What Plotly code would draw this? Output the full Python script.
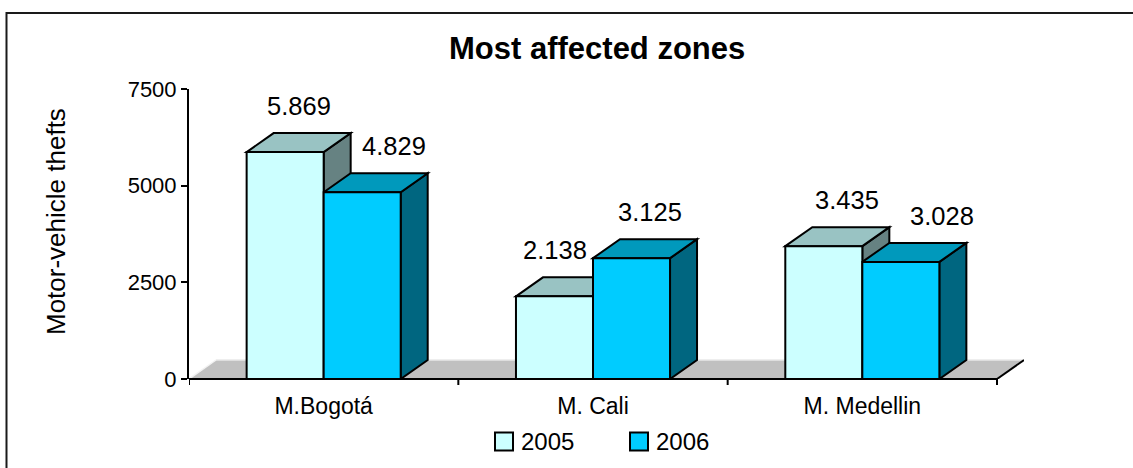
import plotly.graph_objects as go

# ---- data -------------------------------------------------------------
zones = ["M.Bogotá", "M. Cali", "M. Medellin"]
years = ["2005", "2006"]
thefts_2005 = [5869, 2138, 3435]
thefts_2006 = [4829, 3125, 3028]
y_ticks = [0, 2500, 5000, 7500]

series = [thefts_2005, thefts_2006]

# ---- styling / geometry ------------------------------------------------
FONT = "Liberation Sans"
W, H = 1133, 468
PLOT_L, PLOT_T, PLOT_B = 189, 89, 379      # plot area edges in px
CAT_PX = 269.33                           # width of one category slot in px
DEPTH_X_PX, DEPTH_Y_PX = 27, 19           # 3-D extrusion offset in px
Y_MAX = 7500
BARGAP = 0.428

front_colors = ["#CCFFFF", "#00CCFF"]
top_colors = ["#99C3C3", "#0099BC"]
side_colors = ["#668282", "#006680"]
series_label_shift = [0, 18]              # horizontal label nudge per series (px)
zone_label_shift = [0, -13, 10]           # horizontal label nudge per zone (px)

n = len(zones)
PW = n * CAT_PX + DEPTH_X_PX
PH = PLOT_B - PLOT_T
dx = DEPTH_X_PX / CAT_PX                  # depth in category units
dy = DEPTH_Y_PX * Y_MAX / PH              # depth in value units
x_range = [-0.5, n - 0.5 + dx]
group_w = 1 - BARGAP
bar_w = group_w / len(series)


def paper_x(px):
    return (px - PLOT_L) / PW


def paper_y(py):
    return (PLOT_B - py) / PH


fig = go.Figure()

# front faces of the bars
for i, vals in enumerate(series):
    fig.add_trace(go.Bar(
        x=list(range(n)), y=vals, name=years[i],
        marker=dict(color=front_colors[i], line=dict(color="black", width=2)),
        showlegend=False, hoverinfo="skip",
    ))

shapes = []
edge = dict(color="black", width=2)

# grey floor under the bars
x_lo, x_hi = -0.5, n - 0.5
shapes.append(dict(
    type="path", xref="x", yref="y", layer="between",
    path=f"M{x_lo},0 L{x_hi},0 L{x_hi + dx},{dy} L{x_lo + dx},{dy} Z",
    fillcolor="#C0C0C0", line=dict(width=0),
))
shapes.append(dict(type="line", xref="x", yref="y", layer="between",
                   x0=x_lo, y0=0, x1=x_lo + dx, y1=dy,
                   line=dict(color="#F2F2F2", width=1.5)))
shapes.append(dict(type="line", xref="x", yref="y", layer="between",
                   x0=x_lo + dx, y0=dy, x1=x_hi + dx, y1=dy,
                   line=dict(color="#E8E8E8", width=1.5)))

# top and side faces of each bar
for j in range(n):
    for i, vals in enumerate(series):
        v = vals[j]
        left = j - group_w / 2 + i * bar_w
        right = left + bar_w
        shapes.append(dict(
            type="path", xref="x", yref="y", layer="between",
            path=(f"M{right},0 L{right},{v} L{right + dx},{v + dy} "
                  f"L{right + dx},{dy} Z"),
            fillcolor=side_colors[i], line=edge,
        ))
        shapes.append(dict(
            type="path", xref="x", yref="y", layer="between",
            path=(f"M{left},{v} L{left + dx},{v + dy} "
                  f"L{right + dx},{v + dy} L{right},{v} Z"),
            fillcolor=top_colors[i], line=edge,
        ))

# category axis line, its ticks and the floor's right edge
shapes.append(dict(type="line", xref="x", yref="paper", layer="above",
                   x0=x_lo, y0=0, x1=x_hi, y1=0, line=edge))
for k in range(n + 1):
    xb = x_lo + k
    shapes.append(dict(type="line", xref="x", yref="paper", layer="above",
                       x0=xb, y0=0, x1=xb, y1=-6 / PH, line=edge))
shapes.append(dict(type="line", xref="x", yref="y", layer="above",
                   x0=x_hi, y0=0, x1=x_hi + dx, y1=dy, line=edge))

# outer chart frame
shapes.append(dict(type="rect", xref="paper", yref="paper", layer="above",
                   x0=paper_x(6.5), x1=paper_x(W + 20),
                   y0=paper_y(H + 20), y1=paper_y(13),
                   line=dict(color="#1A1A1A", width=2), fillcolor="rgba(0,0,0,0)"))

annotations = []

# value labels above each bar
for j in range(n):
    for i, vals in enumerate(series):
        v = vals[j]
        left = j - group_w / 2 + i * bar_w
        annotations.append(dict(
            xref="x", yref="y", x=left + bar_w / 2 + dx / 2, y=v + dy,
            text=f"{v:,}".replace(",", "."), showarrow=False,
            xanchor="center", yanchor="middle",
            xshift=series_label_shift[i] + zone_label_shift[j], yshift=27,
            font=dict(family=FONT, size=25.5, color="black"),
        ))

# legend drawn as swatches + labels
LEG_X0, LEG_STEP, LEG_Y, SW = 495, 135, 441.5, 18
for i, yr in enumerate(years):
    x0 = LEG_X0 + i * LEG_STEP
    shapes.append(dict(type="rect", xref="paper", yref="paper", layer="above",
                       x0=paper_x(x0), x1=paper_x(x0 + SW),
                       y0=paper_y(LEG_Y + SW / 2), y1=paper_y(LEG_Y - SW / 2),
                       fillcolor=front_colors[i],
                       line=dict(color="black", width=2)))
    annotations.append(dict(
        xref="paper", yref="paper", x=paper_x(x0 + SW + 6), y=paper_y(LEG_Y),
        text=yr, showarrow=False, xanchor="left", yanchor="middle",
        font=dict(family=FONT, size=24, color="black"),
    ))

# chart title and value-axis title
annotations.append(dict(
    xref="paper", yref="paper", x=paper_x(596.5), y=paper_y(49),
    text="Most affected zones", showarrow=False,
    xanchor="center", yanchor="middle",
    font=dict(family=FONT, size=31, color="black", weight="bold"),
))
annotations.append(dict(
    xref="paper", yref="paper", x=paper_x(56), y=paper_y(221),
    text="Motor-vehicle thefts", showarrow=False, textangle=-90,
    xanchor="center", yanchor="middle",
    font=dict(family=FONT, size=26, color="black"),
))

fig.update_layout(
    width=W, height=H,
    margin=dict(l=PLOT_L, r=W - PLOT_L - PW, t=PLOT_T, b=H - PLOT_B),
    paper_bgcolor="white", plot_bgcolor="rgba(0,0,0,0)",
    barmode="group", bargap=BARGAP, bargroupgap=0,
    shapes=shapes, annotations=annotations,
    xaxis=dict(
        range=x_range, tickmode="array", tickvals=list(range(n)),
        ticktext=zones, ticks="", showline=False, showgrid=False,
        zeroline=False, ticklabelstandoff=11,
        tickfont=dict(family=FONT, size=23, color="black"),
    ),
    yaxis=dict(
        range=[0, Y_MAX], tickmode="array", tickvals=y_ticks,
        showline=True, linecolor="black", linewidth=2,
        ticks="outside", ticklen=6, tickwidth=2, tickcolor="black",
        showgrid=False, zeroline=False,
        tickfont=dict(family=FONT, size=22, color="black"),
    ),
)

fig.write_html("out.html")
